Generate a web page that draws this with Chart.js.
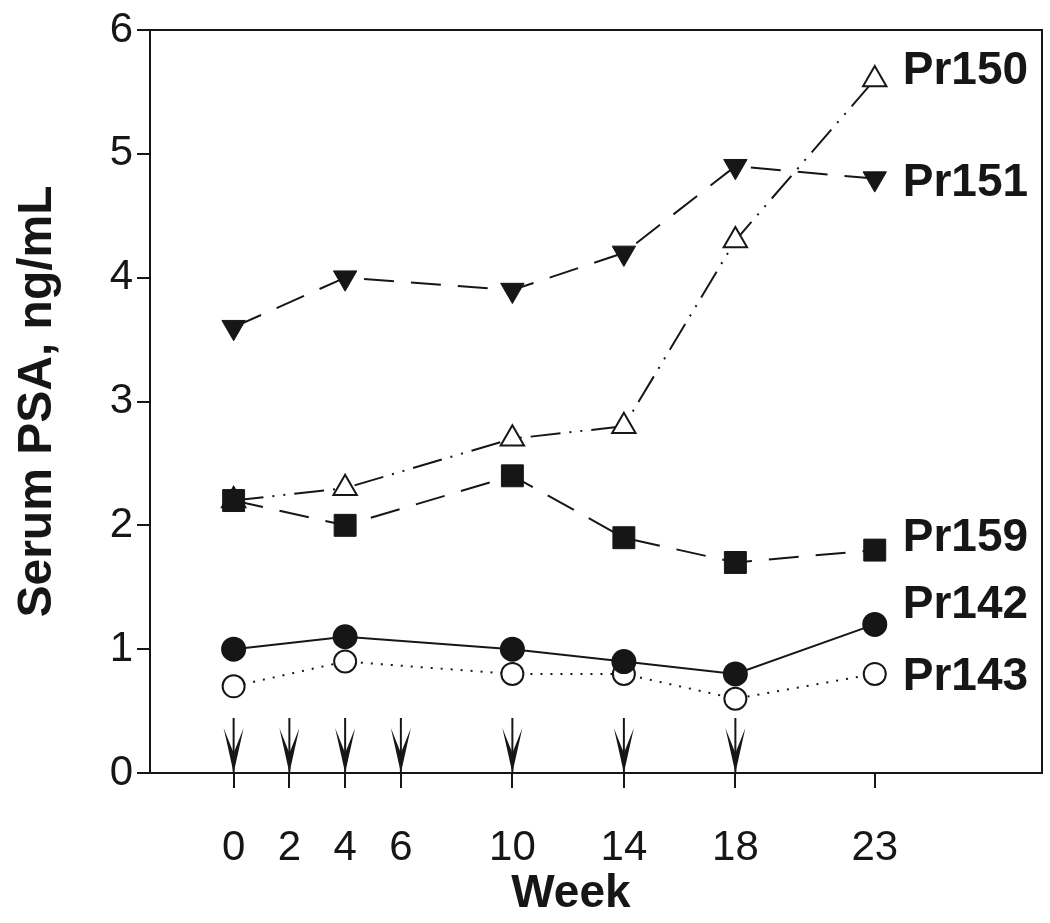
<!DOCTYPE html>
<html>
<head>
<meta charset="utf-8">
<script src="https://cdn.jsdelivr.net/npm/chart.js@4.4.1/dist/chart.umd.min.js"></script>
<style>
  html, body { margin: 0; padding: 0; background: #fff; overflow: hidden; }
  #wrap { position: relative; width: 1050px; height: 923px; }
  canvas { display: block; }
</style>
</head>
<body>
<div id="wrap"><canvas id="psa-chart"></canvas></div>
<script>
// data
const weeks = [0, 4, 10, 14, 18, 23];
const pr142 = [1.0, 1.1, 1.0, 0.9, 0.8, 1.2];
const pr143 = [0.7, 0.9, 0.8, 0.8, 0.6, 0.8];
const pr159 = [2.2, 2.0, 2.4, 1.9, 1.7, 1.8];
const pr150 = [2.2, 2.3, 2.7, 2.8, 4.3, 5.6];
const pr151 = [3.6, 4.0, 3.9, 4.2, 4.9, 4.8];
const xTicks = [0, 2, 4, 6, 10, 14, 18, 23];
const doseWeeks = [0, 2, 4, 6, 10, 14, 18];

const ink = '#161616';
const font = '"Liberation Sans", Arial, sans-serif';
const toPoints = vals => vals.map((v, i) => ({ x: weeks[i], y: v }));

// series label + pixel nudge next to the last point
const seriesLabels = {
  Pr150: -8, Pr151: 5, Pr159: -12, Pr142: -19, Pr143: 3
};

const extras = {
  id: 'extras',
  afterDatasetsDraw(chart) {
    const { ctx, chartArea: a, scales: { x, y } } = chart;
    ctx.save();
    // frame top + right
    ctx.strokeStyle = ink;
    ctx.lineWidth = 2;
    ctx.beginPath();
    ctx.moveTo(a.left, a.top);
    ctx.lineTo(a.right, a.top);
    ctx.lineTo(a.right, a.bottom);
    ctx.stroke();

    // dosing arrows
    ctx.fillStyle = ink;
    doseWeeks.forEach(w => {
      const px = x.getPixelForValue(w);
      const base = y.getPixelForValue(0);
      ctx.beginPath();
      ctx.moveTo(px, base - 55);
      ctx.lineTo(px, base);
      ctx.stroke();
      ctx.beginPath();
      ctx.moveTo(px - 10, base - 45);
      ctx.lineTo(px, base);
      ctx.lineTo(px + 10, base - 45);
      ctx.lineTo(px, base - 20);
      ctx.closePath();
      ctx.fill();
    });

    // series names
    ctx.font = 'bold 46px ' + font;
    ctx.textAlign = 'left';
    ctx.textBaseline = 'middle';
    chart.data.datasets.forEach(ds => {
      const last = ds.data[ds.data.length - 1];
      ctx.fillText(ds.label, x.getPixelForValue(last.x) + 28,
        y.getPixelForValue(last.y) + seriesLabels[ds.label]);
    });

    // x axis title (sits left of centre in the original)
    ctx.textAlign = 'center';
    ctx.fillText('Week', x.getPixelForValue(12.1), 894);
    ctx.restore();
  }
};

const ctx = document.getElementById('psa-chart').getContext('2d');

new Chart(ctx, {
  type: 'line',
  data: {
    datasets: [
      { label: 'Pr142', data: toPoints(pr142), borderColor: ink, backgroundColor: ink,
        pointStyle: 'circle', pointRadius: 11.5, pointBorderWidth: 2 },
      { label: 'Pr143', data: toPoints(pr143), borderColor: ink, backgroundColor: '#fff',
        pointStyle: 'circle', pointRadius: 11, pointBorderWidth: 2, borderDash: [2, 8] },
      { label: 'Pr159', data: toPoints(pr159), borderColor: ink, backgroundColor: ink,
        pointStyle: 'rect', pointRadius: 15.5, pointBorderWidth: 1, borderDash: [30, 17] },
      { label: 'Pr150', data: toPoints(pr150), borderColor: ink, backgroundColor: '#fff',
        pointStyle: 'triangle', pointRadius: 13.5, pointBorderWidth: 2, borderDash: [30, 9, 2, 9, 2, 9] },
      { label: 'Pr151', data: toPoints(pr151), borderColor: ink, backgroundColor: ink,
        pointStyle: 'triangle', pointRotation: 180, pointRadius: 13.5, pointBorderWidth: 1, borderDash: [30, 17] }
    ]
  },
  options: {
    responsive: true,
    maintainAspectRatio: false,
    animation: false,
    events: [],
    layout: { autoPadding: false, padding: { top: 30, right: 8, left: 0, bottom: 0 } },
    elements: { line: { borderWidth: 2, tension: 0 } },
    plugins: {
      legend: { display: false },
      tooltip: { enabled: false }
    },
    scales: {
      x: {
        type: 'linear',
        min: -3,
        max: 29,
        afterBuildTicks: s => { s.ticks = xTicks.map(v => ({ value: v })); },
        afterFit: s => { s.height = 150; s.paddingLeft = 0; s.paddingRight = 0; },
        grid: { drawOnChartArea: false, drawTicks: true, tickLength: 15, color: ink, lineWidth: 2 },
        border: { display: true, color: ink, width: 2 },
        ticks: {
          color: ink, padding: 35, maxRotation: 0, autoSkip: false,
          font: { family: font, size: 42 }
        }
      },
      y: {
        min: 0,
        max: 6,
        afterFit: s => { s.width = 150; },
        grid: { drawOnChartArea: false, drawTicks: true, tickLength: 13, color: ink, lineWidth: 2 },
        border: { display: true, color: ink, width: 2 },
        ticks: {
          stepSize: 1, color: ink, padding: 4,
          font: { family: font, size: 42 }
        },
        title: {
          display: true, text: 'Serum PSA, ng/mL', color: ink,
          font: { family: font, size: 48, weight: 'bold' },
          padding: { top: 9, bottom: 0 }
        }
      }
    }
  },
  plugins: [extras]
});
</script>
</body>
</html>
